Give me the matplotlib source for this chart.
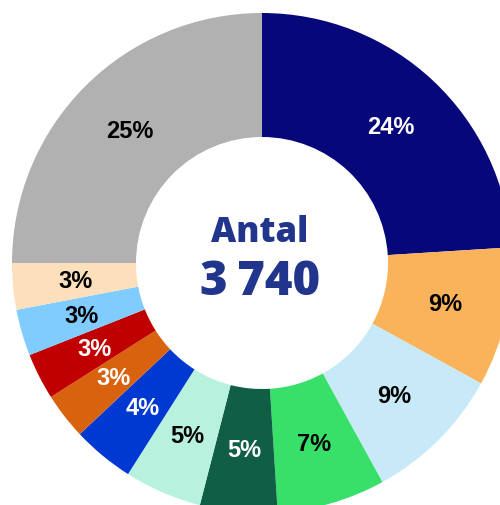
import matplotlib
matplotlib.use("Agg")
import matplotlib.pyplot as plt

categories = ["A", "B", "C", "D", "E", "F", "G", "H", "I", "J", "K", "L"]
shares = [24, 9, 9, 7, 5, 5, 4, 3, 3, 3, 3, 25]
colors = ["#06087A", "#F9B35A", "#C8EAF8", "#38E06A", "#0F5E45", "#B8F2DF",
          "#0039D1", "#D9620E", "#C00000", "#80CCFF", "#FCE0BC", "#B1B1B1"]
label_colors = ["white", "black", "black", "black", "white", "black",
                "white", "white", "white", "black", "black", "black"]
center_title = "Antal"
center_value = "3\u2009740"

fig = plt.figure(figsize=(5.0, 5.06), dpi=100)
ax = fig.add_axes([0, 0, 1, 1])

cx, cy, R = 262, 506 - 264, 250
wedges, texts = ax.pie(
    shares, colors=colors, startangle=90, counterclock=False,
    center=(cx, cy), radius=R, frame=True,
    labels=[f"{s}%" for s in shares], labeldistance=0.75,
    wedgeprops=dict(width=R * 0.496, linewidth=0),
    textprops=dict(fontsize=17, fontweight="bold", family="Liberation Sans"),
)
for t, c in zip(texts, label_colors):
    t.set_color(c)
    t.set_ha("center")
    t.set_va("center")
ax.set_xlim(0, 500)
ax.set_ylim(0, 506)
ax.set_aspect("equal")
ax.axis("off")

ax.text(260, 506 - 233, center_title, ha="center", va="center", fontsize=25,
        fontweight="heavy", family=["Open Sans", "DejaVu Sans"], color="#22358C")
ax.text(260, 506 - 283, center_value, ha="center", va="center", fontsize=34,
        fontweight="heavy", family=["Open Sans", "DejaVu Sans"], color="#22358C")

fig.savefig("out.png", dpi=100)
